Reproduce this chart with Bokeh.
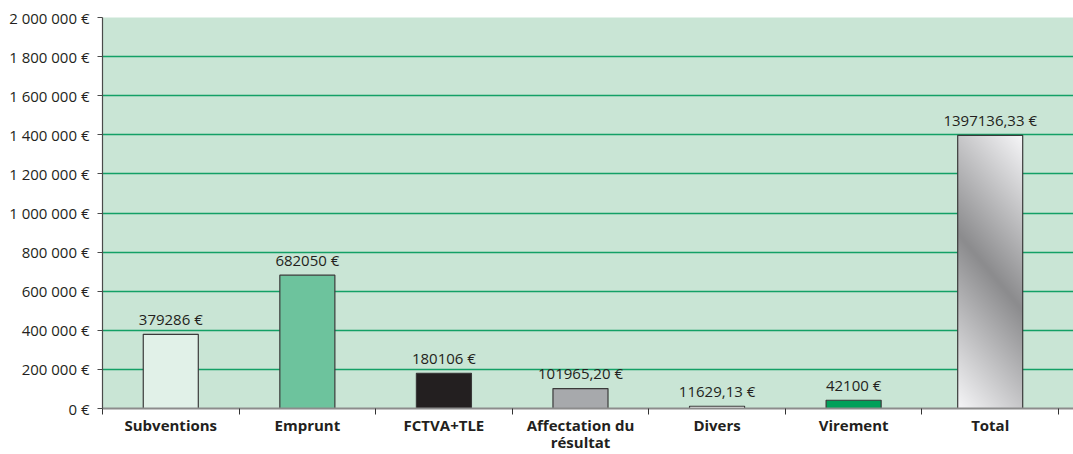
import numpy as np
from bokeh.plotting import figure
from bokeh.models import ColumnDataSource, FixedTicker, Range1d
from bokeh.core.properties import value
from bokeh.embed import file_html
from bokeh.resources import INLINE

# ---- data ----
categories = ["Subventions", "Emprunt", "FCTVA+TLE", "Affectation du\nrésultat",
              "Divers", "Virement", "Total"]
amounts = [379286, 682050, 180106, 101965.20, 11629.13, 42100, 1397136.33]
amount_labels = ["379286 €", "682050 €", "180106 €", "101965,20 €",
                 "11629,13 €", "42100 €", "1397136,33 €"]
y_ticks = [0, 200000, 400000, 600000, 800000, 1000000, 1200000, 1400000,
           1600000, 1800000, 2000000]
y_tick_labels = ["0 €", "200 000 €", "400 000 €", "600 000 €", "800 000 €",
                 "1 000 000 €", "1 200 000 €", "1 400 000 €", "1 600 000 €",
                 "1 800 000 €", "2 000 000 €"]

# ---- styles ----
bar_colors = ["#e1f1e8", "#6dc39d", "#231f20", "#a7a9ac", "#ffffff", "#00a05a", None]
FONT = "Open Sans"
TXT = "#231f20"

n = len(categories)
xc = [i + 0.5 for i in range(n)]
regular = list(range(n - 1))

p = figure(width=1073, height=454, output_backend="svg", toolbar_location=None,
           x_range=Range1d(0, 7.11), y_range=Range1d(0, 2000000),
           min_border_left=102, min_border_top=17, min_border_right=0,
           min_border_bottom=46)
p.background_fill_color = "#c9e5d5"
p.border_fill_color = "white"
p.outline_line_color = None

# grid
p.xgrid.grid_line_color = None
p.ygrid.ticker = FixedTicker(ticks=y_ticks)
p.ygrid.grid_line_color = "#13a066"
p.ygrid.grid_line_width = 1.6

# regular bars
src = ColumnDataSource(dict(x=[xc[i] for i in regular],
                            top=[amounts[i] for i in regular],
                            color=[bar_colors[i] for i in regular]))
p.vbar(x="x", top="top", bottom=0, width=0.403, source=src,
       fill_color="color", line_color="#3a3a3a", line_width=1.2)

# total bar with diagonal gradient
ti = n - 1
tw = 0.476
rows, cols = 273, 65
yy, xx = np.mgrid[0:rows, 0:cols]
px = xx - (cols - 1) / 2.0
py = (rows - 1) / 2.0 - yy  # up positive
nvec = np.array([77.0, 65.0])
t = (px * nvec[0] + py * nvec[1])
t = np.abs(t) / np.abs(t).max()
light, dark = 246.0, 140.0
g = (dark + (light - dark) * t).astype(np.uint32)
img = np.empty((rows, cols), dtype=np.uint32)
view = img.view(dtype=np.uint8).reshape((rows, cols, 4))
view[:, :, 0] = g
view[:, :, 1] = g
view[:, :, 2] = g + 2
view[:, :, 3] = 255
img = img[::-1]
p.image_rgba(image=[img], x=xc[ti] - tw / 2, y=0, dw=tw, dh=amounts[ti])
p.vbar(x=[xc[ti]], top=[amounts[ti]], bottom=0, width=tw,
       fill_color=None, line_color="#3a3a3a", line_width=1.2)

# value labels
lsrc = ColumnDataSource(dict(x=xc, y=amounts, t=amount_labels))
p.text(x="x", y="y", text="t", source=lsrc, text_align="center",
       text_baseline="bottom", y_offset=-5.5, text_font=value(FONT),
       text_font_size="15px", text_color=TXT)

# x axis
xa = p.xaxis[0]
xa.ticker = FixedTicker(ticks=xc, minor_ticks=list(range(n + 1)))
xa.major_label_overrides = {x: c for x, c in zip(xc, categories)}
xa.major_tick_line_color = None
xa.major_tick_out = 0
xa.major_tick_in = 0
xa.minor_tick_line_color = "#333333"
xa.minor_tick_out = 6
xa.minor_tick_in = 0
xa.axis_line_color = "#8c8c8c"
xa.axis_line_width = 2
xa.major_label_text_font = FONT
xa.major_label_text_font_style = "bold"
xa.major_label_text_font_size = "15px"
xa.major_label_text_color = TXT
xa.major_label_text_line_height = 0.85
xa.major_label_standoff = 0

# y axis
ya = p.yaxis[0]
ya.ticker = FixedTicker(ticks=y_ticks)
ya.major_label_overrides = {v: l for v, l in zip(y_ticks, y_tick_labels)}
ya.axis_line_color = "#4a4a4a"
ya.axis_line_width = 1.2
ya.major_tick_line_color = "#4a4a4a"
ya.major_tick_out = 5
ya.major_tick_in = 0
ya.minor_tick_line_color = None
ya.major_label_text_font = FONT
ya.major_label_text_font_size = "15px"
ya.major_label_text_color = TXT
ya.major_label_standoff = 8

open("out.html", "w").write(file_html(p, INLINE))
